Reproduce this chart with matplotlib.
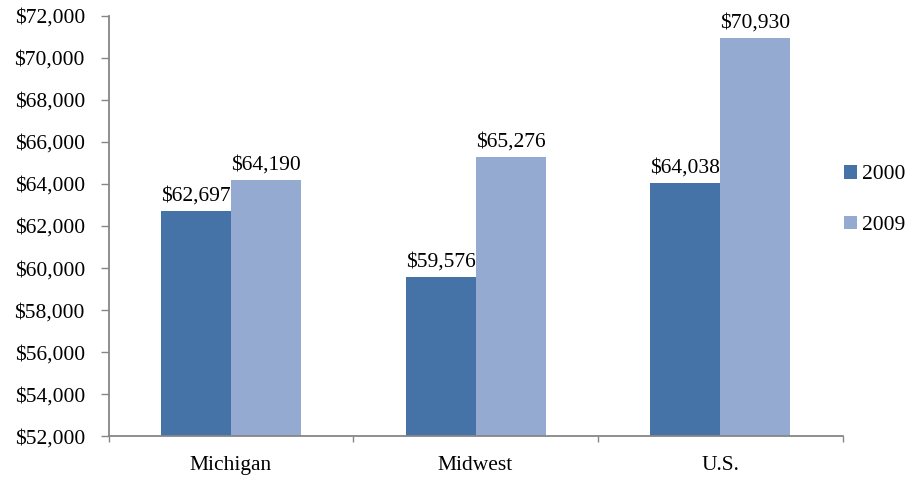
import matplotlib.pyplot as plt
import numpy as np
from matplotlib.ticker import FuncFormatter

regions = ['Michigan', 'Midwest', 'U.S.']
income_2000 = [62697, 59576, 64038]
income_2009 = [64190, 65276, 70930]
years = ['2000', '2009']

plt.rcParams['font.family'] = ['Liberation Serif', 'DejaVu Serif']
FS = 15.5

fig = plt.figure(figsize=(9.18, 4.83), dpi=100)
ax = fig.add_axes([0.1182, 0.0963, 0.7996, 0.8716])

x = np.arange(len(regions))
w = 0.286
b1 = ax.bar(x - w / 2, income_2000, w, color='#4572A7', label=years[0])
b2 = ax.bar(x + w / 2, income_2009, w, color='#95AAD1', label=years[1])

for bars in (b1, b2):
    for bar in bars:
        ax.annotate('${:,.0f}'.format(bar.get_height()),
                    (bar.get_x() + bar.get_width() / 2, bar.get_height()),
                    xytext=(0, 4), textcoords='offset points',
                    ha='center', va='bottom', fontsize=FS)

ax.set_ylim(52000, 72000)
ax.set_yticks(np.arange(52000, 72001, 2000))
ax.yaxis.set_major_formatter(FuncFormatter(lambda v, p: '${:,.0f}'.format(v)))
ax.set_xlim(-0.5, 2.5)
ax.set_xticks(x)
ax.set_xticklabels(regions)
ax.set_xticks([-0.5, 0.5, 1.5, 2.5], minor=True)

for s in ('top', 'right'):
    ax.spines[s].set_visible(False)
for s in ('left', 'bottom'):
    ax.spines[s].set_color('#868686')
    ax.spines[s].set_linewidth(1.3)

ax.tick_params(axis='y', colors='#868686', labelcolor='black', labelsize=FS,
               length=6, width=1, pad=11)
ax.tick_params(axis='x', which='major', length=0, labelsize=FS, pad=14)
ax.tick_params(axis='x', which='minor', colors='#868686', length=4, width=1)

ax.legend(loc='center left', bbox_to_anchor=(0.99, 0.562), frameon=False,
          fontsize=FS, handlelength=0.6, handleheight=0.6, handletextpad=0.25,
          labelspacing=1.45, borderaxespad=0)

fig.savefig('out.png', dpi=100)
